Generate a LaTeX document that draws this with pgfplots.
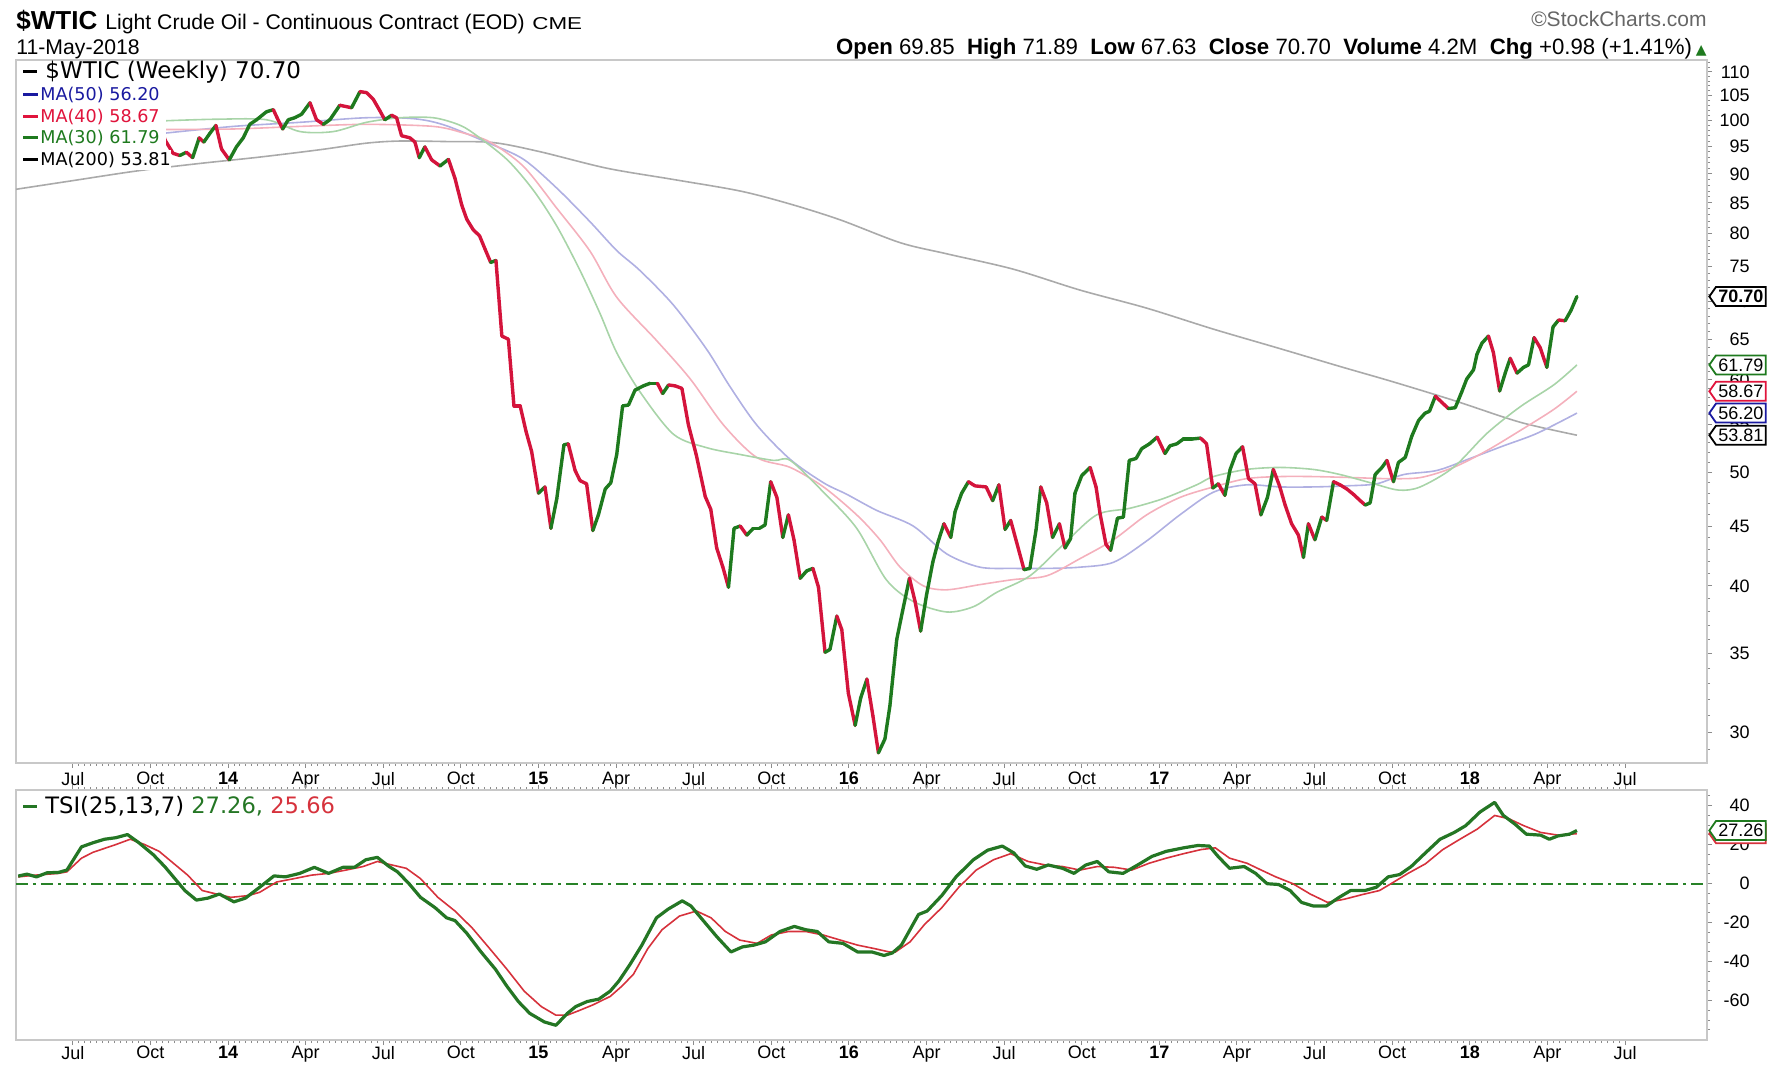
\documentclass[border=0pt]{standalone}
\usepackage{fontspec}
\setmainfont{Liberation Sans}
\newfontfamily\verd{DejaVu Sans}
\usepackage{graphicx}
\usepackage{pgfplots}
\usepackage{pgfplotstable}
\pgfplotsset{compat=1.18}
\usetikzlibrary{shapes.symbols}
\definecolor{pgreen}{RGB}{30,122,30}
\definecolor{pred}{RGB}{212,20,60}
\definecolor{maA}{RGB}{176,176,226}
\definecolor{maB}{RGB}{244,176,188}
\definecolor{maC}{RGB}{168,212,168}
\definecolor{maD}{RGB}{170,170,170}
\definecolor{lblue}{RGB}{26,26,160}
\definecolor{lred}{RGB}{224,20,60}
\definecolor{lgreen}{RGB}{30,122,30}
\definecolor{frm}{RGB}{200,200,200}
\definecolor{tsig}{RGB}{214,50,60}
\definecolor{tgreen}{RGB}{36,118,36}
\definecolor{zline}{RGB}{40,130,40}

\pgfplotstableread{
x y m
2013.335 95.6 1
2013.354 96.0 0
2013.373 96.0 0
2013.393 94.2 0
2013.412 92.0 1
2013.431 96.0 1
2013.450 97.9 0
2013.469 93.7 1
2013.488 96.6 1
2013.508 103.2 1
2013.527 106.0 1
2013.546 108.1 0
2013.565 104.7 1
2013.584 106.9 0
2013.604 106.0 1
2013.623 107.5 0
2013.642 106.4 1
2013.661 107.7 1
2013.680 110.5 0
2013.700 108.2 0
2013.719 104.7 0
2013.738 102.9 1
2013.757 103.8 0
2013.776 100.8 0
2013.797 96.2 0
2013.823 93.7 0
2013.845 93.3 1
2013.866 93.9 0
2013.886 92.9 1
2013.907 96.6 0
2013.922 95.8 1
2013.942 97.5 1
2013.961 99.0 0
2013.979 94.5 0
2014.004 92.5 1
2014.027 94.9 1
2014.049 96.6 1
2014.070 99.2 1
2014.092 100.1 1
2014.124 101.7 1
2014.146 102.1 0
2014.158 100.5 0
2014.176 98.3 1
2014.194 100.1 1
2014.215 100.5 1
2014.237 101.2 1
2014.264 103.5 0
2014.285 100.1 0
2014.307 99.2 1
2014.328 100.1 1
2014.360 103.0 0
2014.398 102.5 1
2014.425 105.8 0
2014.446 105.6 0
2014.468 104.2 0
2014.489 101.9 0
2014.505 100.1 1
2014.527 101.0 0
2014.543 100.5 0
2014.559 97.0 0
2014.586 96.6 0
2014.602 95.8 0
2014.616 92.9 1
2014.634 94.9 0
2014.656 92.5 0
2014.683 91.4 1
2014.710 92.6 0
2014.731 89.2 0
2014.753 84.6 0
2014.769 82.3 0
2014.790 80.6 0
2014.810 79.7 0
2014.828 77.6 0
2014.846 75.6 1
2014.863 75.9 0
2014.882 65.4 0
2014.903 65.0 0
2014.921 57.0 0
2014.941 57.0 0
2014.960 54.2 0
2014.978 52.1 0
2015.000 48.0 1
2015.021 48.6 0
2015.040 44.8 1
2015.059 47.5 1
2015.082 52.8 1
2015.096 52.9 0
2015.118 50.2 0
2015.134 49.2 0
2015.155 48.9 0
2015.175 44.6 1
2015.193 46.0 1
2015.215 48.4 1
2015.233 49.0 1
2015.252 51.8 1
2015.271 57.0 1
2015.290 57.1 1
2015.311 58.8 1
2015.338 59.3 1
2015.360 59.6 1
2015.383 59.6 0
2015.400 58.4 1
2015.419 59.4 0
2015.440 59.3 0
2015.462 59.0 0
2015.483 54.9 0
2015.508 51.8 0
2015.537 47.7 0
2015.555 46.5 0
2015.574 43.1 0
2015.594 41.5 0
2015.612 39.9 1
2015.630 44.8 1
2015.650 45.0 0
2015.671 44.2 1
2015.692 44.8 1
2015.712 44.8 1
2015.730 45.1 1
2015.748 49.1 0
2015.768 47.6 0
2015.787 44.0 1
2015.805 46.0 0
2015.823 43.8 0
2015.843 40.6 1
2015.864 41.2 1
2015.884 41.4 0
2015.902 39.9 0
2015.923 35.1 1
2015.939 35.3 1
2015.961 37.7 0
2015.977 36.7 0
2015.998 32.4 0
2016.020 30.4 1
2016.038 32.1 1
2016.058 33.3 0
2016.077 31.0 0
2016.095 28.8 1
2016.116 29.6 1
2016.132 31.6 1
2016.154 36.0 1
2016.173 38.1 1
2016.195 40.6 0
2016.213 38.8 0
2016.231 36.6 1
2016.250 39.3 1
2016.270 41.9 1
2016.288 43.7 1
2016.306 45.2 0
2016.328 44.0 1
2016.342 46.3 1
2016.363 48.0 1
2016.385 49.1 0
2016.406 48.7 0
2016.442 48.6 0
2016.463 47.3 1
2016.483 48.8 0
2016.503 44.7 1
2016.521 45.5 0
2016.540 43.6 0
2016.564 41.3 1
2016.583 41.4 1
2016.603 44.7 1
2016.618 48.6 0
2016.637 47.1 0
2016.656 44.0 1
2016.678 45.2 0
2016.696 43.1 1
2016.714 43.9 1
2016.728 48.0 1
2016.750 49.7 1
2016.777 50.5 0
2016.796 48.6 0
2016.809 46.1 0
2016.828 43.4 0
2016.843 42.9 1
2016.865 45.7 1
2016.884 45.8 1
2016.903 51.2 1
2016.925 51.4 1
2016.943 52.4 1
2016.968 52.9 1
2016.993 53.6 0
2017.018 51.9 1
2017.034 52.7 1
2017.056 52.9 1
2017.077 53.4 1
2017.104 53.4 1
2017.133 53.5 0
2017.152 52.9 0
2017.172 48.5 1
2017.190 48.9 0
2017.211 47.8 1
2017.228 50.3 1
2017.247 51.9 1
2017.268 52.6 0
2017.287 49.4 0
2017.308 48.9 0
2017.327 46.0 1
2017.348 47.6 1
2017.367 50.3 0
2017.387 48.7 0
2017.405 46.9 0
2017.426 45.2 0
2017.448 44.2 0
2017.464 42.3 1
2017.480 45.2 0
2017.501 43.8 1
2017.523 45.8 0
2017.539 45.5 1
2017.561 49.1 0
2017.582 48.8 0
2017.604 48.4 0
2017.625 47.9 0
2017.647 47.3 0
2017.663 46.9 1
2017.679 47.1 1
2017.695 49.8 1
2017.717 50.5 1
2017.733 51.2 0
2017.754 49.1 1
2017.770 51.0 1
2017.792 51.5 1
2017.813 53.7 1
2017.835 55.4 1
2017.856 56.2 1
2017.870 56.4 1
2017.889 58.1 0
2017.910 57.4 0
2017.931 56.7 1
2017.953 56.8 1
2017.974 58.6 1
2017.990 60.1 1
2018.012 61.2 1
2018.023 63.1 1
2018.039 64.5 1
2018.060 65.4 0
2018.076 63.3 0
2018.096 58.7 1
2018.114 60.8 1
2018.130 62.6 0
2018.152 60.8 1
2018.173 61.5 1
2018.189 61.8 1
2018.207 65.2 0
2018.227 63.9 0
2018.248 61.5 1
2018.268 66.6 1
2018.286 67.5 0
2018.307 67.4 1
2018.326 68.8 1
2018.345 70.70 1
}\price

\pgfplotstableread{
x y
2013.797 97.5
2014.017 98.8
2014.232 99.6
2014.446 100.5
2014.600 100.3
2014.700 99.0
2014.844 95.5
2014.952 92.6
2015.059 87.5
2015.166 81.9
2015.252 77.4
2015.327 74.4
2015.435 69.5
2015.542 63.7
2015.617 59.2
2015.703 54.9
2015.811 51.3
2015.918 49.0
2015.993 47.9
2016.090 46.4
2016.207 45.0
2016.315 42.6
2016.422 41.5
2016.530 41.4
2016.640 41.4
2016.744 41.5
2016.852 41.9
2016.959 43.7
2017.066 46.0
2017.174 48.1
2017.281 48.8
2017.389 48.6
2017.496 48.6
2017.600 48.7
2017.700 48.9
2017.787 49.8
2017.894 50.2
2018.001 51.4
2018.109 52.7
2018.216 54.0
2018.345 56.20
}\maL

\pgfplotstableread{
x y
2013.797 98.2
2014.017 98.3
2014.232 98.8
2014.446 99.2
2014.661 98.8
2014.760 97.5
2014.844 95.8
2014.952 91.3
2015.059 84.1
2015.166 77.3
2015.252 70.6
2015.381 64.8
2015.489 60.1
2015.596 54.9
2015.703 51.5
2015.811 50.5
2015.918 48.6
2016.025 46.0
2016.100 43.8
2016.165 41.5
2016.240 40.0
2016.315 39.7
2016.422 40.1
2016.530 40.5
2016.637 40.8
2016.744 42.2
2016.852 43.8
2016.959 46.0
2017.066 47.6
2017.174 48.6
2017.281 49.4
2017.389 49.6
2017.496 49.6
2017.625 49.5
2017.733 49.4
2017.840 49.5
2017.947 50.5
2018.055 52.2
2018.162 54.3
2018.270 56.6
2018.345 58.67
}\maF

\pgfplotstableread{
x y
2013.797 99.9
2013.960 100.2
2014.124 100.1
2014.232 97.8
2014.339 97.8
2014.446 99.6
2014.554 100.5
2014.661 100.5
2014.740 99.2
2014.790 97.5
2014.898 92.6
2014.984 87.1
2015.059 81.2
2015.134 74.4
2015.198 68.4
2015.252 63.3
2015.327 58.6
2015.435 53.9
2015.542 52.5
2015.650 51.8
2015.757 51.2
2015.811 51.2
2015.918 48.1
2016.025 44.8
2016.120 40.5
2016.207 38.8
2016.315 38.0
2016.401 38.4
2016.476 39.5
2016.583 40.8
2016.691 43.4
2016.798 46.0
2016.905 46.6
2017.013 47.5
2017.120 48.8
2017.174 49.6
2017.281 50.3
2017.389 50.5
2017.496 50.3
2017.582 49.8
2017.680 49.0
2017.770 48.3
2017.840 48.6
2017.947 50.5
2018.055 54.0
2018.162 56.9
2018.270 59.4
2018.345 61.79
}\maT

\pgfplotstableread{
x y
2013.317 87.3
2013.500 88.8
2013.705 90.5
2013.900 91.8
2014.100 93.0
2014.300 94.4
2014.446 95.6
2014.554 96.0
2014.700 95.9
2014.855 95.7
2015.005 94.0
2015.220 91.0
2015.435 89.0
2015.650 87.0
2015.811 84.8
2015.972 82.2
2016.165 78.6
2016.315 76.9
2016.530 74.6
2016.744 71.6
2016.959 69.1
2017.174 66.3
2017.389 63.8
2017.582 61.6
2017.750 59.8
2017.950 57.6
2018.162 55.2
2018.345 53.81
}\maH

\pgfplotstableread{
x y
2013.324 3.9
2013.352 4.9
2013.383 3.5
2013.417 5.6
2013.454 5.8
2013.481 7.0
2013.528 18.9
2013.565 21.0
2013.602 22.8
2013.639 23.6
2013.676 25.2
2013.713 21.0
2013.759 14.9
2013.796 8.8
2013.833 1.8
2013.861 -3.5
2013.898 -8.4
2013.935 -7.4
2013.972 -5.3
2014.019 -9.3
2014.056 -7.4
2014.102 -1.8
2014.148 4.0
2014.185 3.5
2014.231 5.3
2014.278 8.4
2014.324 5.3
2014.370 8.4
2014.407 8.4
2014.444 12.3
2014.481 13.5
2014.519 8.8
2014.546 6.1
2014.583 0.0
2014.620 -7.0
2014.667 -12.3
2014.704 -17.5
2014.731 -18.9
2014.769 -25.4
2014.815 -35.0
2014.861 -43.8
2014.898 -52.5
2014.935 -60.4
2014.972 -66.5
2015.019 -70.9
2015.056 -72.6
2015.093 -66.5
2015.120 -63.0
2015.157 -60.4
2015.194 -59.2
2015.231 -55.1
2015.259 -49.9
2015.296 -41.1
2015.333 -31.5
2015.380 -17.5
2015.417 -13.1
2015.463 -8.8
2015.491 -11.4
2015.528 -18.4
2015.574 -27.1
2015.620 -35.0
2015.657 -32.4
2015.694 -31.5
2015.731 -29.8
2015.778 -24.5
2015.824 -21.9
2015.861 -23.6
2015.898 -24.5
2015.935 -29.8
2015.981 -30.6
2016.028 -35.0
2016.074 -35.0
2016.113 -36.8
2016.140 -35.5
2016.169 -31.5
2016.224 -15.8
2016.252 -14.0
2016.299 -6.1
2016.345 3.5
2016.401 12.3
2016.447 17.2
2016.494 19.3
2016.531 15.8
2016.568 9.1
2016.605 7.4
2016.642 9.6
2016.688 7.9
2016.725 5.3
2016.763 9.6
2016.800 11.4
2016.837 6.1
2016.883 5.3
2016.930 9.6
2016.976 14.0
2017.022 16.6
2017.078 18.4
2017.124 19.6
2017.161 19.3
2017.189 14.0
2017.226 7.9
2017.273 8.8
2017.310 5.3
2017.347 0.0
2017.384 -0.4
2017.421 -3.5
2017.458 -9.6
2017.495 -11.4
2017.538 -11.4
2017.579 -7.0
2017.616 -3.5
2017.662 -3.5
2017.699 -1.8
2017.737 3.5
2017.774 4.7
2017.811 8.8
2017.857 15.8
2017.904 22.8
2017.950 26.3
2017.987 29.8
2018.033 36.8
2018.080 41.7
2018.108 35.0
2018.145 30.6
2018.182 25.4
2018.228 24.9
2018.256 22.8
2018.284 24.5
2018.321 25.4
2018.345 27.26
}\tsi

\pgfplotstableread{
x y
2013.324 3.5
2013.380 4.4
2013.454 5.3
2013.481 6.1
2013.528 13.1
2013.565 16.1
2013.639 20.1
2013.685 22.8
2013.731 20.1
2013.778 16.6
2013.824 10.5
2013.870 4.4
2013.917 -3.5
2013.963 -5.3
2014.009 -7.0
2014.065 -6.1
2014.102 -4.4
2014.157 0.9
2014.213 2.6
2014.269 4.4
2014.324 5.3
2014.380 7.0
2014.435 8.8
2014.481 11.4
2014.528 9.6
2014.574 7.9
2014.620 2.6
2014.676 -7.0
2014.731 -14.0
2014.787 -22.8
2014.843 -33.3
2014.898 -43.8
2014.954 -55.1
2015.009 -63.0
2015.056 -67.4
2015.093 -67.4
2015.130 -65.1
2015.176 -62.1
2015.231 -57.8
2015.269 -52.5
2015.306 -46.4
2015.352 -33.3
2015.398 -23.6
2015.454 -16.6
2015.509 -14.0
2015.556 -17.5
2015.602 -24.5
2015.648 -28.9
2015.704 -30.6
2015.750 -26.3
2015.806 -24.5
2015.861 -24.5
2015.917 -26.3
2015.972 -28.9
2016.028 -31.5
2016.083 -33.3
2016.130 -35.0
2016.150 -35.0
2016.197 -29.8
2016.243 -21.0
2016.299 -12.3
2016.354 -1.8
2016.410 7.0
2016.466 12.3
2016.521 15.4
2016.577 11.4
2016.633 9.6
2016.688 8.8
2016.744 7.0
2016.800 8.8
2016.855 8.4
2016.911 7.0
2016.967 10.5
2017.022 13.1
2017.078 15.4
2017.134 17.5
2017.180 18.4
2017.226 13.1
2017.282 10.5
2017.328 7.0
2017.375 3.5
2017.430 0.0
2017.486 -5.3
2017.542 -9.6
2017.597 -7.9
2017.653 -5.6
2017.709 -3.5
2017.746 0.0
2017.801 5.3
2017.857 10.2
2017.913 17.5
2017.968 22.8
2018.024 28.0
2018.080 35.0
2018.126 33.3
2018.173 29.8
2018.228 26.3
2018.284 24.9
2018.345 25.66
}\tsisig

\tikzset{vbox/.style={signal, signal to=west, signal pointer angle=110, fill=white,
  line width=0.9pt, inner xsep=1.2pt, inner ysep=0.6pt, minimum height=9.5pt,
  anchor=west, xshift=0.6pt, font=\fontsize{9}{9}\selectfont}}

\pgfplotsset{chartbase/.style={
  scale only axis, width=845.5pt, anchor=south west,
  xmin=2013.317, xmax=2018.764,
  axis line style={draw=frm, line width=1pt},
  xtick={2013.5,2013.75,2014,2014.25,2014.5,2014.75,2015,2015.25,2015.5,2015.75,2016,2016.25,2016.5,2016.75,2017,2017.25,2017.5,2017.75,2018,2018.25,2018.5},
  xticklabels={Jul,Oct,\textbf{14},Apr,Jul,Oct,\textbf{15},Apr,Jul,Oct,\textbf{16},Apr,Jul,Oct,\textbf{17},Apr,Jul,Oct,\textbf{18},Apr,Jul},
  minor x tick num=12,
  tick align=outside,
  major tick length=2.5pt, minor tick length=1.5pt,
  every tick/.style={draw=black!45, line width=0.5pt},
  ticklabel style={font=\fontsize{9}{10}\selectfont},
  ytick pos=right, yticklabel pos=right,
  yticklabel style={anchor=east, xshift=19pt, inner sep=0pt},
  clip mode=individual,
}}

\begin{document}
\begin{tikzpicture}[x=0.5pt,y=0.5pt]
\useasboundingbox (0,0) rectangle (1788,1078);

% ---------- price panel ----------
\begin{axis}[chartbase,
  at={(8pt,157.5pt)}, height=351.5pt,
  ymode=log, ymin=28.23, ymax=112.6,
  xtick pos=bottom,
  xticklabel style={yshift=1.3pt},
  ytick={30,35,40,45,50,55,60,65,70,75,80,85,90,95,100,105,110},
  yticklabels={30,35,40,45,50,55,60,65,70,75,80,85,90,95,100,105,110},
  minor ytick={29,30,...,112},
  colormap={updown}{color=(pred) color=(pgreen)},
  point meta min=0, point meta max=1,
]
\addplot[maD, line width=0.8pt, smooth] table[x=x,y=y] {\maH};
\addplot[maA, line width=0.8pt, smooth] table[x=x,y=y] {\maL};
\addplot[maB, line width=0.8pt, smooth] table[x=x,y=y] {\maF};
\addplot[maC, line width=0.8pt, smooth] table[x=x,y=y] {\maT};
\addplot[mesh, shader=flat corner, line width=1.7pt, line cap=round, point meta=\thisrow{m}] table[x=x,y=y] {\price};

\node[vbox, draw=black] at (axis cs:2018.764,53.81) {53.81};
\node[vbox, draw=lblue] at (axis cs:2018.764,56.20) {56.20};
\node[vbox, draw=lred] at (axis cs:2018.764,58.67) {58.67};
\node[vbox, draw=lgreen] at (axis cs:2018.764,61.79) {61.79};
\node[vbox, draw=black, font=\fontsize{9}{9}\selectfont\bfseries] at (axis cs:2018.764,70.70) {70.70};
\end{axis}

% ---------- TSI panel ----------
\begin{axis}[chartbase,
  at={(8pt,19pt)}, height=125pt,
  ymin=-80.15, ymax=48.05,
  xtick pos=both, xticklabel pos=bottom,
  xticklabel style={yshift=3pt},
  ytick={-60,-40,-20,0,20,40},
  yticklabels={-60,-40,-20,0,20,40},
  minor ytick={-75,-70,...,45},
]
\addplot[zline, line width=1pt, dash pattern=on 6pt off 2.5pt on 1.5pt off 2.5pt] coordinates {(2013.317,0) (2018.764,0)};
\addplot[tsig, line width=0.8pt] table[x=x,y=y] {\tsisig};
\addplot[tgreen, line width=1.6pt, line join=round] table[x=x,y=y] {\tsi};
\node[vbox, draw=tsig] at (axis cs:2018.764,25.66) {\phantom{27.26}};
\node[vbox, draw=lgreen] at (axis cs:2018.764,27.26) {27.26};
\end{axis}

% ---------- legend of the price panel ----------
\fill[white] (17.5,911) rectangle (166,1016);
\fill[white] (17.5,994) rectangle (312,1017);
\draw[black, line width=1.5pt] (23,1006) -- (37,1006);
\node[anchor=west, inner sep=0pt, font=\verd\fontsize{11.5}{12}\selectfont] at (45,1006) {\$WTIC (Weekly) 70.70};
\draw[lblue, line width=1.5pt] (23,983) -- (38,983);
\node[anchor=west, inner sep=0pt, text=lblue, font=\verd\fontsize{8.8}{9}\selectfont] at (40,983) {MA(50) 56.20};
\draw[lred, line width=1.5pt] (23,961) -- (38,961);
\node[anchor=west, inner sep=0pt, text=lred, font=\verd\fontsize{8.8}{9}\selectfont] at (40,961) {MA(40) 58.67};
\draw[lgreen, line width=1.5pt] (23,940) -- (38,940);
\node[anchor=west, inner sep=0pt, text=lgreen, font=\verd\fontsize{8.8}{9}\selectfont] at (40,940) {MA(30) 61.79};
\draw[black, line width=1.5pt] (23,918) -- (38,918);
\node[anchor=west, inner sep=0pt, fill=white, inner ysep=1pt, font=\verd\fontsize{8.8}{9}\selectfont] at (40,918) {MA(200) 53.81};

% ---------- legend of the TSI panel ----------
\draw[tgreen, line width=1.5pt] (23,272) -- (37,272);
\node[anchor=west, inner sep=0pt, font=\verd\fontsize{11.3}{12}\selectfont] at (45,272) {TSI(25,13,7) \textcolor{tgreen}{27.26,} \textcolor{tsig}{25.66}};

% ---------- header ----------
\node[anchor=base west, inner sep=0pt, font=\fontsize{13}{13}\selectfont\bfseries] at (16,1048) {\$WTIC};
\node[anchor=base west, inner sep=0pt, font=\fontsize{10.6}{11}\selectfont] at (105,1048) {Light Crude Oil - Continuous Contract (EOD)};
\node[anchor=base west, inner sep=0pt, font=\fontsize{8.6}{9}\selectfont] at (532,1048) {\scalebox{1.3}[1]{CME}};
\node[anchor=base west, inner sep=0pt, font=\fontsize{10.6}{11}\selectfont] at (16,1023) {11-May-2018};
\node[anchor=base east, inner sep=0pt, text=black!60, font=\fontsize{10.5}{11}\selectfont] at (1707,1051) {\copyright StockCharts.com};
\node[anchor=base east, inner sep=0pt, font=\fontsize{11.1}{12}\selectfont] at (1707,1023) {\textbf{Open} 69.85\ \ \textbf{High} 71.89\ \ \textbf{Low} 67.63\ \ \textbf{Close} 70.70\ \ \textbf{Volume} 4.2M\ \ \textbf{Chg} +0.98 (+1.41\%)\,{\verd\fontsize{7}{7}\selectfont\textcolor{pgreen}{▲}}};
\end{tikzpicture}
\end{document}
